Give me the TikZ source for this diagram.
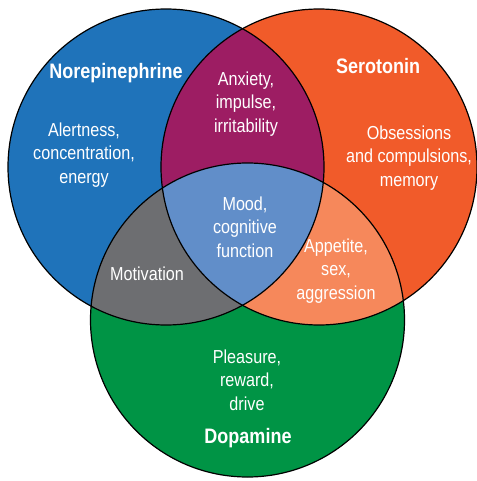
\documentclass[tikz,border=0pt]{standalone}
\usepackage{fontspec}
\setmainfont{Liberation Sans}[FakeStretch=0.86]

\definecolor{norBlue}{RGB}{31,115,186}
\definecolor{seroOrange}{RGB}{241,91,42}
\definecolor{dopaGreen}{RGB}{0,148,69}
\definecolor{anxPurple}{RGB}{157,29,99}
\definecolor{motGrey}{RGB}{109,110,113}
\definecolor{appOrange}{RGB}{246,136,91}
\definecolor{moodBlue}{RGB}{97,142,201}

\tikzset{every picture/.style={line width=0.75pt}}
\tikzset{
  lbl/.style={text=white, align=center, inner sep=0pt, font=\fontsize{14.1}{17.6}\selectfont},
  ttl/.style={text=white, inner sep=0pt, font=\fontsize{15.7}{18}\selectfont\bfseries}
}

\begin{document}
\begin{tikzpicture}[x=0.75pt,y=0.75pt,yscale=-1,xscale=1]
	\useasboundingbox (0,0) rectangle (476,481);

	%Shape: Circle [norepinephrine]
	\fill [norBlue] (166,167) circle (158);
	%Shape: Circle [serotonin]
	\fill [seroOrange] (319,167) circle (158);
	%Shape: Circle [dopamine]
	\fill [dopaGreen] (247.5,320) circle (157);

	%Overlap: norepinephrine and serotonin
	\begin{scope}
		\clip (166,167) circle (158);
		\fill [anxPurple] (319,167) circle (158);
	\end{scope}
	%Overlap: norepinephrine and dopamine
	\begin{scope}
		\clip (166,167) circle (158);
		\fill [motGrey] (247.5,320) circle (157);
	\end{scope}
	%Overlap: serotonin and dopamine
	\begin{scope}
		\clip (319,167) circle (158);
		\fill [appOrange] (247.5,320) circle (157);
	\end{scope}
	%Overlap: all three
	\begin{scope}
		\clip (166,167) circle (158);
		\clip (319,167) circle (158);
		\fill [moodBlue] (247.5,320) circle (157);
	\end{scope}

	%Outlines
	\draw [line width=0.9pt] (166,167) circle (158);
	\draw [line width=0.9pt] (319,167) circle (158);
	\draw [line width=0.9pt] (247.5,320) circle (157);

	% Text Node
	\node [ttl] (norTitle) at (116,73) {Norepinephrine};
	% Text Node
	\node [lbl] (alert) at (84,155) {Alertness,\\concentration,\\energy};
	% Text Node
	\node [lbl] (anxiety) at (246,104) {Anxiety,\\impulse,\\irritability};
	% Text Node
	\node [ttl] (seroTitle) at (378,66) {Serotonin};
	% Text Node
	\node [lbl] (obsess) at (409,158) {Obsessions\\and compulsions,\\memory};
	% Text Node
	\node [lbl] (mood) at (245,227) {Mood,\\cognitive\\function};
	% Text Node
	\node [lbl] (motiv) at (147,274) {Motivation};
	% Text Node
	\node [lbl] (appetite) at (336,271) {Appetite,\\sex,\\aggression};
	% Text Node
	\node [lbl] (pleasure) at (247,380) {Pleasure,\\reward,\\drive};
	% Text Node
	\node [ttl] (dopaTitle) at (248,438) {Dopamine};

\end{tikzpicture}
\end{document}
